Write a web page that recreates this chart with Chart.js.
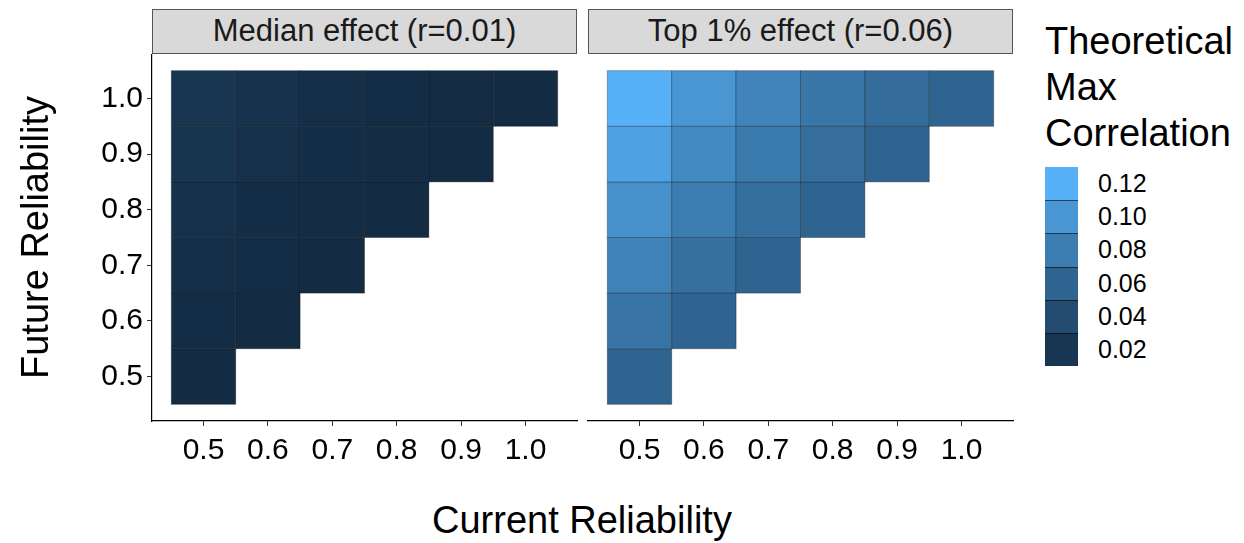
<!DOCTYPE html>
<html>
<head>
<meta charset="utf-8">
<title>Theoretical max correlation</title>
<script src="https://cdn.jsdelivr.net/npm/chart.js@4.4.1/dist/chart.umd.min.js"></script>
<style>
  body { margin: 0; background: #fff; font-family: "Liberation Sans", Arial, sans-serif; color: #000; }
  #wrap { position: relative; width: 1244px; height: 543px; overflow: hidden; }
  canvas { position: absolute; }
  .strip {
    position: absolute; top: 9px; height: 45px; box-sizing: border-box;
    background: #d9d9d9; border: 1.5px solid #555;
    font-size: 31px; line-height: 42px; text-align: center; color: #1a1a1a;
  }
  .axis-title { position: absolute; font-size: 38px; white-space: nowrap; }
  #legend-title { position: absolute; left: 1045px; top: 18px; font-size: 38px; line-height: 46px; }
  .key { position: absolute; left: 1045px; width: 33px; box-sizing: border-box; }
  .key-label { position: absolute; left: 1098px; font-size: 25px; line-height: 33px; }
</style>
</head>
<body>
<div id="wrap">
  <div class="strip" style="left:152px; width:425px;">Median effect (r=0.01)</div>
  <div class="strip" style="left:588px; width:425px;">Top 1% effect (r=0.06)</div>
  <canvas id="panelMedian" width="582" height="430" style="left:0; top:54px;"></canvas>
  <canvas id="panelTop" width="430" height="430" style="left:586px; top:54px;"></canvas>
  <div class="axis-title" id="xTitle">Current Reliability</div>
  <div class="axis-title" id="yTitle">Future Reliability</div>
  <div id="legend-title">Theoretical<br>Max<br>Correlation</div>
  <div id="legend"></div>
</div>

<script>
// Reliability levels on both axes
const currentRel = [0.5, 0.6, 0.7, 0.8, 0.9, 1.0];
const futureRel = [0.5, 0.6, 0.7, 0.8, 0.9, 1.0];
const tickValues = [0.5, 0.6, 0.7, 0.8, 0.9, 1.0];

// One row per future reliability (0.5 first), values for current reliability 0.5 upwards
const medianCells = [
    [0.010],
    [0.012, 0.010],
    [0.014, 0.012, 0.010],
    [0.016, 0.013, 0.011, 0.010],
    [0.018, 0.015, 0.013, 0.011, 0.010],
    [0.020, 0.017, 0.014, 0.012, 0.011, 0.010]
];
const topCells = [
    [0.060],
    [0.072, 0.060],
    [0.084, 0.070, 0.060],
    [0.096, 0.080, 0.069, 0.060],
    [0.108, 0.090, 0.077, 0.068, 0.060],
    [0.120, 0.100, 0.086, 0.075, 0.067, 0.060]
];

// Fill scale
const fillLimits = [0.01, 0.12];
const legendBreaks = [0.12, 0.10, 0.08, 0.06, 0.04, 0.02];
const lowColor = '#132B43';
const highColor = '#56B1F7';

// --- colour helpers (interpolate in Lab like ggplot's gradient) ---
function hexToLab(hex) {
    const rgb = [1, 3, 5].map(i => parseInt(hex.substr(i, 2), 16) / 255)
        .map(c => c <= 0.04045 ? c / 12.92 : Math.pow((c + 0.055) / 1.055, 2.4));
    const [r, g, b] = rgb;
    const X = (0.4124564 * r + 0.3575761 * g + 0.1804375 * b) / 0.95047;
    const Y = (0.2126729 * r + 0.7151522 * g + 0.0721750 * b);
    const Z = (0.0193339 * r + 0.1191920 * g + 0.9503041 * b) / 1.08883;
    const f = t => t > 0.008856 ? Math.cbrt(t) : 7.787 * t + 16 / 116;
    const fx = f(X), fy = f(Y), fz = f(Z);
    return [116 * fy - 16, 500 * (fx - fy), 200 * (fy - fz)];
}

function labToRgb(lab) {
    const fy = (lab[0] + 16) / 116;
    const fx = lab[1] / 500 + fy;
    const fz = fy - lab[2] / 200;
    const finv = t => t * t * t > 0.008856 ? t * t * t : (t - 16 / 116) / 7.787;
    const X = finv(fx) * 0.95047, Y = finv(fy), Z = finv(fz) * 1.08883;
    const lin = [
        3.2404542 * X - 1.5371385 * Y - 0.4985314 * Z,
        -0.9692660 * X + 1.8760108 * Y + 0.0415560 * Z,
        0.0556434 * X - 0.2040259 * Y + 1.0572252 * Z
    ];
    const out = lin.map(c => {
        c = c <= 0.0031308 ? 12.92 * c : 1.055 * Math.pow(c, 1 / 2.4) - 0.055;
        return Math.round(Math.min(1, Math.max(0, c)) * 255);
    });
    return 'rgb(' + out.join(',') + ')';
}

const labLow = hexToLab(lowColor);
const labHigh = hexToLab(highColor);

function fillColor(v) {
    let t = (v - fillLimits[0]) / (fillLimits[1] - fillLimits[0]);
    t = Math.min(1, Math.max(0, t));
    return labToRgb(labLow.map((c, i) => c + (labHigh[i] - c) * t));
}

// Turn the row tables into {x, y, v} points
function toPoints(rows) {
    const pts = [];
    rows.forEach((row, i) => {
        row.forEach((v, j) => {
            pts.push({ x: currentRel[j], y: futureRel[i], v: v });
        });
    });
    return pts;
}

// Draws each point as a tile 0.1 wide/high, using the chart's own scales
const tilePlugin = {
    id: 'tiles',
    beforeDatasetsDraw(chart) {
        const ctx = chart.ctx;
        const xs = chart.scales.x;
        const ys = chart.scales.y;
        ctx.save();
        chart.data.datasets.forEach(ds => {
            ds.data.forEach(p => {
                const left = xs.getPixelForValue(p.x - 0.05);
                const right = xs.getPixelForValue(p.x + 0.05);
                const top = ys.getPixelForValue(p.y + 0.05);
                const bottom = ys.getPixelForValue(p.y - 0.05);
                ctx.fillStyle = fillColor(p.v);
                ctx.fillRect(left, top, right - left, bottom - top);
                ctx.strokeStyle = 'rgba(0,0,0,0.3)';
                ctx.lineWidth = 1;
                ctx.strokeRect(left, top, right - left, bottom - top);
            });
        });
        ctx.restore();
    }
};

function fixedTicks(scale) {
    scale.ticks = tickValues.map(v => ({ value: v }));
}

// no extra room for half-labels at the ends, the panel fills its box
function noPadding(s) {
    s.paddingTop = 0;
    s.paddingBottom = 0;
    s.paddingLeft = 0;
    s.paddingRight = 0;
}

const tickFont = { family: '"Liberation Sans", Arial, sans-serif', size: 30 };

function makePanel(canvasId, rows, yWidth, padding) {
    const ctx = document.getElementById(canvasId).getContext('2d');
    return new Chart(ctx, {
        type: 'scatter',
        data: {
            datasets: [{
                data: toPoints(rows),
                pointRadius: 0,
                pointHoverRadius: 0
            }]
        },
        options: {
            responsive: false,
            animation: false,
            layout: { padding: padding },
            plugins: {
                legend: { display: false },
                tooltip: { enabled: false }
            },
            scales: {
                x: {
                    type: 'linear',
                    min: 0.42,
                    max: 1.08,
                    afterBuildTicks: fixedTicks,
                    afterFit: s => { s.height = 63; noPadding(s); },
                    grid: { drawOnChartArea: false, drawTicks: true, tickLength: 5, color: '#333' },
                    border: { display: true, color: '#000', width: 1.2 },
                    ticks: {
                        padding: 7,
                        color: '#000',
                        font: tickFont,
                        callback: v => v.toFixed(1)
                    }
                },
                y: {
                    type: 'linear',
                    display: yWidth > 0,
                    min: 0.42,
                    max: 1.08,
                    afterBuildTicks: fixedTicks,
                    afterFit: s => { s.width = yWidth; noPadding(s); },
                    grid: { drawOnChartArea: false, drawTicks: true, tickLength: 5, color: '#333' },
                    border: { display: true, color: '#000', width: 1.2 },
                    ticks: {
                        padding: 4,
                        color: '#000',
                        font: tickFont,
                        callback: v => v.toFixed(1)
                    }
                }
            }
        },
        plugins: [tilePlugin]
    });
}

makePanel('panelMedian', medianCells, 152, { left: 0, right: 5, top: 0, bottom: 0 });
makePanel('panelTop', topCells, 0, { left: 2, right: 3, top: 0, bottom: 0 });

// Axis titles
const xTitle = document.getElementById('xTitle');
xTitle.style.left = (582 - xTitle.offsetWidth / 2) + 'px';
xTitle.style.top = (520 - xTitle.offsetHeight / 2) + 'px';
const yTitle = document.getElementById('yTitle');
yTitle.style.left = (35 - yTitle.offsetWidth / 2) + 'px';
yTitle.style.top = (237 - yTitle.offsetHeight / 2) + 'px';
yTitle.style.transform = 'rotate(-90deg)';

// Colour legend keys
const legend = document.getElementById('legend');
legendBreaks.forEach((b, i) => {
    const top = 167 + i * 33.2;
    const key = document.createElement('div');
    key.className = 'key';
    key.style.top = top + 'px';
    key.style.height = '33.2px';
    key.style.background = fillColor(b);
    if (i > 0) key.style.borderTop = '1px solid rgba(0,0,0,0.55)';
    legend.appendChild(key);
    const lab = document.createElement('div');
    lab.className = 'key-label';
    lab.style.top = top + 'px';
    lab.textContent = b.toFixed(2);
    legend.appendChild(lab);
});
</script>
</body>
</html>
